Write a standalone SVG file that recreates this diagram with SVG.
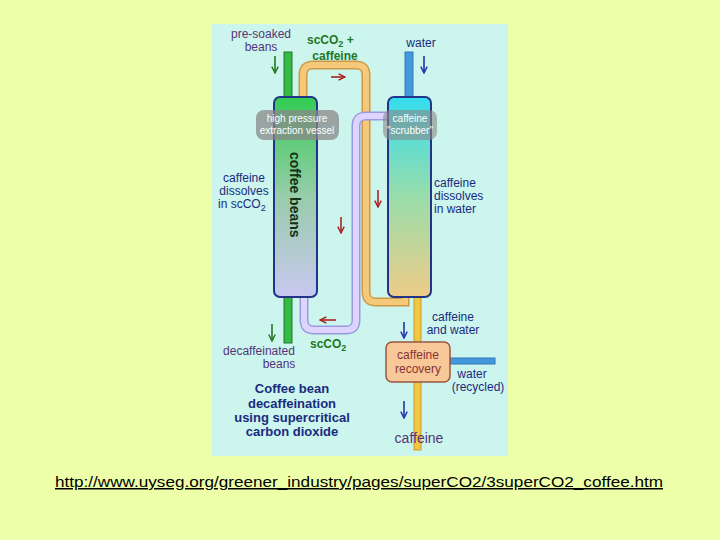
<svg xmlns="http://www.w3.org/2000/svg" width="720" height="540" viewBox="0 0 720 540">
<defs>
<linearGradient id="gl" x1="0" y1="0" x2="0" y2="1"><stop offset="0" stop-color="#33cc55"/><stop offset="0.5" stop-color="#99ccaa"/><stop offset="1" stop-color="#c8c8f0"/></linearGradient>
<linearGradient id="gr" x1="0" y1="0" x2="0" y2="1"><stop offset="0" stop-color="#33ddee"/><stop offset="0.5" stop-color="#99ddaa"/><stop offset="1" stop-color="#eecc88"/></linearGradient>
<marker id="ah" viewBox="0 0 10 10" refX="9" refY="5" markerWidth="5" markerHeight="5" orient="auto"><path d="M1,1 L9,5 L1,9" fill="none" stroke="context-stroke" stroke-width="1.8"/></marker>
</defs>
<style>
text{font-family:"Liberation Sans",Arial,sans-serif;font-size:12px}
.nv{fill:#1a2a80}.pu{fill:#553377}.gr{fill:#227722}.wh{fill:#fff;font-size:10px}
.arr{fill:none;stroke-width:1.6;marker-end:url(#ah)}
</style>
<rect width="720" height="540" fill="#eeffaa"/>
<rect x="212" y="24" width="296" height="432" fill="#ccf5ee"/>
<g id="connectors" fill="none">
<path d="M303,97 V75 Q303,65 313,65 H356 Q366,65 366,75 V292 Q366,302 376,302 H405 V297" stroke="#cc9944" stroke-width="9"/>
<path d="M303,97 V75 Q303,65 313,65 H356 Q366,65 366,75 V292 Q366,302 376,302 H405 V297" stroke="#f5c87a" stroke-width="6"/>
<path d="M388,116 H366 Q356,116 356,126 V320 Q356,330 346,330 H314 Q304,330 304,320 V297" stroke="#9999dd" stroke-width="9"/>
<path d="M388,116 H366 Q356,116 356,126 V320 Q356,330 346,330 H314 Q304,330 304,320 V297" stroke="#ddd5ff" stroke-width="6"/>
<rect x="284" y="52" width="8" height="45" fill="#33bb44" stroke="#227733"/>
<rect x="284" y="297" width="8" height="46" fill="#33bb44" stroke="#227733"/>
<rect x="405" y="52" width="8" height="45" fill="#4499dd" stroke="#3377bb"/>
<rect x="414" y="297" width="7" height="153" fill="#f0c840" stroke="#cc9933"/>
<rect x="450" y="358" width="45" height="6" fill="#4499dd" stroke="#3377bb"/>
<path class="arr" stroke="#227722" d="M275,56 V73"/>
<path class="arr" stroke="#aa2222" d="M331,77 H345"/>
<path class="arr" stroke="#2233aa" d="M424,56 V73"/>
<path class="arr" stroke="#aa2222" d="M378,190 V207"/>
<path class="arr" stroke="#aa2222" d="M341,217 V233"/>
<path class="arr" stroke="#aa2222" d="M336,320 H320"/>
<path class="arr" stroke="#227722" d="M272,324 V341"/>
<path class="arr" stroke="#2233aa" d="M404,322 V338"/>
<path class="arr" stroke="#2233aa" d="M404,401 V418"/>
</g>
<g id="vessel-left">
<rect x="274" y="97" width="43" height="200" rx="6" fill="url(#gl)" stroke="#223388" stroke-width="2"/>
<rect x="256" y="110" width="83" height="30" rx="8" fill="#888" opacity="0.75"/>
<text class="wh" x="297" y="122" text-anchor="middle">high pressure</text>
<text class="wh" x="297" y="134" text-anchor="middle">extraction vessel</text>
<text x="290" y="152" transform="rotate(90 290 152)" style="font-weight:bold;font-size:14px" fill="#113311">coffee beans</text>
</g>
<g id="vessel-right">
<rect x="388" y="97" width="43" height="200" rx="6" fill="url(#gr)" stroke="#223388" stroke-width="2"/>
<rect x="383" y="110" width="54" height="30" rx="8" fill="#888" opacity="0.6"/>
<text class="wh" x="410" y="122" text-anchor="middle">caffeine</text>
<text class="wh" x="410" y="134" text-anchor="middle">"scrubber"</text>
</g>
<g id="recovery">
<rect x="386" y="342" width="64" height="40" rx="6" fill="#f8c898" stroke="#995544" stroke-width="1.5"/>
<text x="418" y="359" text-anchor="middle" fill="#883333">caffeine</text>
<text x="418" y="373" text-anchor="middle" fill="#883333">recovery</text>
</g>
<g id="labels">
<text class="pu" x="261" y="38" text-anchor="middle">pre-soaked</text>
<text class="pu" x="261" y="51" text-anchor="middle">beans</text>
<text class="gr" x="307" y="44" style="font-weight:bold">scCO<tspan font-size="9" dy="3">2</tspan><tspan dy="-3"> +</tspan></text>
<text class="gr" x="335" y="60" text-anchor="middle" style="font-weight:bold">caffeine</text>
<text class="nv" x="421" y="47" text-anchor="middle">water</text>
<text class="nv" x="244" y="182" text-anchor="middle">caffeine</text>
<text class="nv" x="244" y="195" text-anchor="middle">dissolves</text>
<text class="nv" x="218" y="208">in scCO<tspan font-size="9" dy="3">2</tspan></text>
<text class="nv" x="434" y="187">caffeine</text>
<text class="nv" x="434" y="200">dissolves</text>
<text class="nv" x="434" y="213">in water</text>
<text class="pu" x="259" y="355" text-anchor="middle">decaffeinated</text>
<text class="pu" x="279" y="368" text-anchor="middle">beans</text>
<text class="gr" x="310" y="348" style="font-weight:bold">scCO<tspan font-size="9" dy="3">2</tspan></text>
<text class="nv" x="453" y="321" text-anchor="middle">caffeine</text>
<text class="nv" x="453" y="334" text-anchor="middle">and water</text>
<text class="nv" x="472" y="378" text-anchor="middle">water</text>
<text class="nv" x="478" y="391" text-anchor="middle">(recycled)</text>
<text class="pu" x="419" y="443" text-anchor="middle" style="font-size:14px">caffeine</text>
<g class="nv" text-anchor="middle">
<text x="292" y="393" style="font-size:13px;font-weight:bold">Coffee bean</text>
<text x="292" y="408" style="font-size:13px;font-weight:bold">decaffeination</text>
<text x="292" y="422" style="font-size:13px;font-weight:bold">using supercritical</text>
<text x="292" y="436" style="font-size:13px;font-weight:bold">carbon dioxide</text>
</g>
</g>
<text x="55" y="487" textLength="608" lengthAdjust="spacingAndGlyphs" style="font-size:15px" text-decoration="underline" fill="#000">http://www.uyseg.org/greener_industry/pages/superCO2/3superCO2_coffee.htm</text>
</svg>
